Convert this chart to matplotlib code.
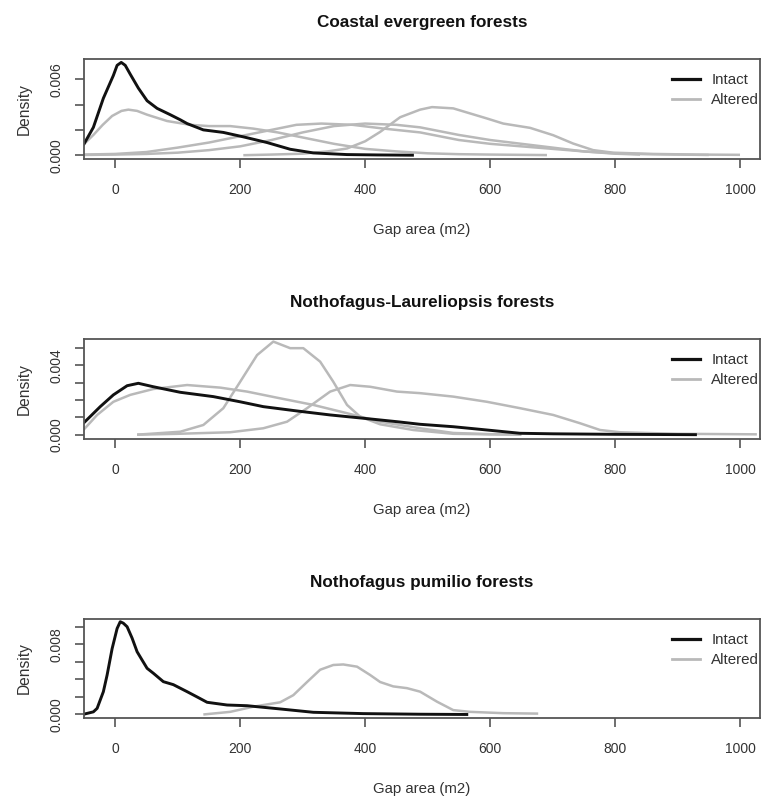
import matplotlib
matplotlib.use("Agg")
import matplotlib.pyplot as plt
from matplotlib.lines import Line2D

plt.rcParams['font.family'] = ['Liberation Sans', 'DejaVu Sans']

titles = ["Coastal evergreen forests", "Nothofagus-Laureliopsis forests", "Nothofagus pumilio forests"]
xlabel = "Gap area (m2)"
ylabel = "Density"
legend_labels = ["Intact", "Altered"]
xticks = [0, 200, 400, 600, 800, 1000]

# ---- Panel 1: Coastal evergreen forests ----
p1_intact_x = [-51, -35, -19, -3, 3, 9.6, 16, 24, 37, 51, 67, 88, 104, 115, 141, 173, 205, 243, 280, 317, 371, 420, 478]
p1_intact_y = [0.0008, 0.0022, 0.0045, 0.0063, 0.0071, 0.00733, 0.0071, 0.0064, 0.0053, 0.0043, 0.0037, 0.0032, 0.0028, 0.0025, 0.0020, 0.0018, 0.00145, 0.0010, 0.00047, 0.00018, 0.00005, 0.00002, 0.0]

p1_alt_a_x = [-51, -35, -20, -5, 10, 21, 35, 51, 83, 120, 150, 184, 221, 260, 300, 350, 400, 450, 500, 550, 600, 691]
p1_alt_a_y = [0.00083, 0.0016, 0.0024, 0.0031, 0.0035, 0.0036, 0.0035, 0.0032, 0.0027, 0.0024, 0.0023, 0.0023, 0.0021, 0.0018, 0.0014, 0.0009, 0.0005, 0.0003, 0.00015, 0.00008, 0.00005, 0.00001]

p1_alt_b_x = [-51, 0, 50, 100, 150, 200, 250, 290, 330, 380, 430, 488, 550, 600, 650, 700, 750, 800, 840]
p1_alt_b_y = [0.00005, 0.0001, 0.00025, 0.0006, 0.0010, 0.0015, 0.0020, 0.0024, 0.0025, 0.0024, 0.0021, 0.0018, 0.0012, 0.0009, 0.0007, 0.0005, 0.0003, 0.00012, 0.00005]

p1_alt_c_x = [-51, 0, 50, 100, 150, 200, 250, 300, 350, 400, 450, 488, 550, 600, 650, 700, 750, 800, 850, 950]
p1_alt_c_y = [0.00002, 0.00005, 0.0001, 0.0002, 0.0004, 0.0007, 0.0012, 0.0018, 0.0023, 0.0025, 0.0024, 0.0022, 0.0016, 0.0012, 0.0009, 0.0006, 0.0003, 0.00015, 0.00008, 0.00002]

p1_alt_d_x = [205, 250, 300, 340, 371, 400, 424, 456, 488, 507, 541, 568, 595, 621, 664, 701, 733, 765, 797, 861, 930, 1000]
p1_alt_d_y = [0.0, 0.00005, 0.00012, 0.0003, 0.00053, 0.0011, 0.00184, 0.0030, 0.0036, 0.0038, 0.0037, 0.0033, 0.0029, 0.0025, 0.00216, 0.00158, 0.00092, 0.0004, 0.0002, 0.0001, 0.00005, 0.00003]

# ---- Panel 2: Nothofagus-Laureliopsis forests ----
p2_intact_x = [-51, -24, -3, 19, 37, 61, 104, 157, 200, 237, 291, 344, 397, 451, 488, 541, 595, 648, 701, 800, 931]
p2_intact_y = [0.00066, 0.00162, 0.0023, 0.00283, 0.00297, 0.00277, 0.00245, 0.0022, 0.0019, 0.00162, 0.00137, 0.00114, 0.00095, 0.00075, 0.0006, 0.00046, 0.00027, 0.00008, 0.00005, 0.00002, 0.0]

p2_alt_a_x = [-51, -29, -3, 24, 61, 115, 168, 211, 264, 317, 371, 424, 488, 541, 600, 650]
p2_alt_a_y = [0.00027, 0.00114, 0.0019, 0.0023, 0.00264, 0.00287, 0.00272, 0.00249, 0.0021, 0.00172, 0.00124, 0.00075, 0.00037, 0.0001, 0.00003, 0.00001]

p2_alt_b_x = [35, 104, 141, 173, 200, 227, 253, 280, 301, 328, 349, 371, 392, 424, 477, 541, 600, 650]
p2_alt_b_y = [0.0, 0.00017, 0.00056, 0.00153, 0.00306, 0.0046, 0.00538, 0.0050, 0.0050, 0.00422, 0.00306, 0.00172, 0.00104, 0.0006, 0.00027, 0.00005, 0.00002, 0.0]

p2_alt_c_x = [35, 100, 184, 237, 275, 307, 344, 376, 408, 451, 488, 541, 595, 648, 701, 744, 776, 808, 900, 1027]
p2_alt_c_y = [0.0, 0.00005, 0.00014, 0.00037, 0.00075, 0.00153, 0.00249, 0.00287, 0.00277, 0.00249, 0.0024, 0.0022, 0.0019, 0.00153, 0.00114, 0.00066, 0.00027, 0.00014, 0.00005, 0.00002]

# ---- Panel 3: Nothofagus pumilio forests ----
p3_intact_x = [-51, -35, -29, -19, -13, -5, 3, 8, 13, 19, 27, 35, 43, 51, 61, 77, 93, 115, 131, 147, 179, 211, 264, 317, 397, 488, 565]
p3_intact_y = [0.00002, 0.0003, 0.0007, 0.0026, 0.0045, 0.0075, 0.0098, 0.01057, 0.0104, 0.0100, 0.0087, 0.00715, 0.0062, 0.00526, 0.0047, 0.00374, 0.0034, 0.0026, 0.0020, 0.00139, 0.00108, 0.0010, 0.00063, 0.00025, 0.0001, 0.00003, 0.0]

p3_alt_x = [141, 184, 221, 264, 285, 307, 328, 349, 365, 387, 408, 424, 445, 467, 488, 515, 541, 568, 621, 677]
p3_alt_y = [0.0, 0.0003, 0.00089, 0.00139, 0.0022, 0.0037, 0.0051, 0.00564, 0.0057, 0.00545, 0.0045, 0.0037, 0.0032, 0.0030, 0.0026, 0.00146, 0.0005, 0.0003, 0.00015, 0.0001]

panels = [
    dict(intact=(p1_intact_x, p1_intact_y),
         altered=[(p1_alt_a_x, p1_alt_a_y), (p1_alt_b_x, p1_alt_b_y), (p1_alt_c_x, p1_alt_c_y), (p1_alt_d_x, p1_alt_d_y)],
         ylim=(-0.00030, 0.00760), yticks=[0, 0.002, 0.004, 0.006], ylabels=["0.000", "", "", "0.006"]),
    dict(intact=(p2_intact_x, p2_intact_y),
         altered=[(p2_alt_a_x, p2_alt_a_y), (p2_alt_b_x, p2_alt_b_y), (p2_alt_c_x, p2_alt_c_y)],
         ylim=(-0.00025, 0.00553), yticks=[0, 0.001, 0.002, 0.003, 0.004, 0.005], ylabels=["0.000", "", "", "", "0.004", ""]),
    dict(intact=(p3_intact_x, p3_intact_y),
         altered=[(p3_alt_x, p3_alt_y)],
         ylim=(-0.00040, 0.01088), yticks=[0, 0.002, 0.004, 0.006, 0.008, 0.010], ylabels=["0.000", "", "", "", "0.008", ""]),
]

W, H = 763, 799
fig = plt.figure(figsize=(W / 100, H / 100), dpi=100)
fig.patch.set_facecolor("white")

boxes = [(59, 159), (339, 439), (619, 718)]
left_px, right_px = 84, 760
black = "#111111"
gray = "#b9b9b9"
frame = "#555555"
textc = "#333333"

for i, (p, (top, bot)) in enumerate(zip(panels, boxes)):
    hpx = bot - top
    ax = fig.add_axes([left_px / W, 1 - bot / H, (right_px - left_px) / W, hpx / H])
    for xs, ys in p["altered"]:
        ax.plot(xs, ys, color=gray, lw=1.8, solid_capstyle="butt", solid_joinstyle="round")
    ax.plot(*p["intact"], color=black, lw=2.1, solid_capstyle="butt", solid_joinstyle="round")
    ax.set_xlim(-50, 1032)
    ax.set_ylim(*p["ylim"])
    ax.set_xticks(xticks)
    ax.set_xticklabels([str(t) for t in xticks])
    ax.set_yticks(p["yticks"])
    ax.set_yticklabels(p["ylabels"])
    for s in ax.spines.values():
        s.set_color(frame)
        s.set_linewidth(1.3)
    ax.tick_params(axis="both", direction="out", length=6.5, width=1.2, color=frame,
                   labelsize=10, labelcolor=textc)
    ax.tick_params(axis="x", pad=11)
    ax.tick_params(axis="y", pad=8, labelrotation=90)
    for lab in ax.get_yticklabels():
        lab.set_va("center")
    ax.text(0.5, 1 + 37 / hpx, titles[i], transform=ax.transAxes,
            ha="center", va="center", fontsize=12.3, fontweight="bold", color="#111111")
    ax.text(0.5, -71 / hpx, xlabel, transform=ax.transAxes,
            ha="center", va="center", fontsize=10.8, color=textc)
    ax.text(-(84 - 24) / (right_px - left_px), 0.5, ylabel, transform=ax.transAxes,
            ha="center", va="center", rotation=90, fontsize=11.2, color=textc)
    handles = [Line2D([], [], color=black, lw=2.3), Line2D([], [], color=gray, lw=2.0)]
    leg = ax.legend(handles, legend_labels, loc="upper left",
                    bbox_to_anchor=((672 - left_px) / (right_px - left_px), 1 - 14.5 / hpx),
                    frameon=False, borderpad=0, borderaxespad=0, handlelength=1.85,
                    handletextpad=0.75, labelspacing=0.38, fontsize=10.9)
    for t in leg.get_texts():
        t.set_color(textc)

fig.savefig("out.png", dpi=100, facecolor="white")
